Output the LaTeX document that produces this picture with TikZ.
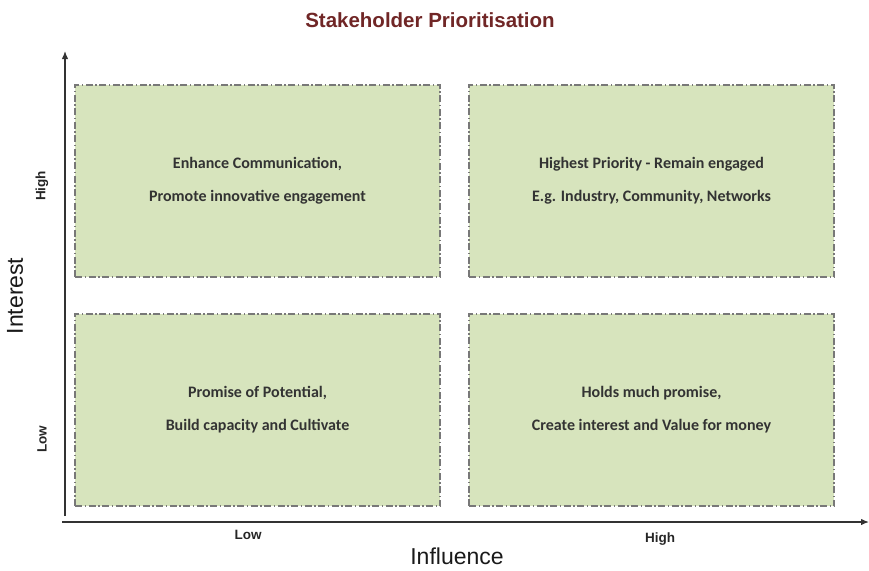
\documentclass[tikz,border=0pt]{standalone}
\usepackage{fontspec}
\setmainfont{Liberation Sans}
\newfontfamily\boxfont{Carlito}
\usetikzlibrary{arrows.meta}
\definecolor{quadfill}{RGB}{215,228,189}
\definecolor{quadline}{RGB}{120,120,120}
\definecolor{titlered}{RGB}{112,38,38}
\tikzset{
	quad/.style={draw=quadline, fill=quadfill, line width=1.8pt,
		dash pattern=on 7pt off 2.5pt on 1.5pt off 2.5pt,
		minimum width=365pt, minimum height=192pt, inner sep=0pt,
		align=center, font=\boxfont\bfseries\fontsize{16}{33}\selectfont, text=black!80},
	axis/.style={line width=1.3pt, color=black!80, -{Latex[length=8pt,width=6.5pt]}},
	level/.style={font=\bfseries\fontsize{13.5}{15}\selectfont, text=black!85},
	axislabel/.style={font=\fontsize{23}{26}\selectfont, text=black!90}
}
\begin{document}
\begin{tikzpicture}[x=1pt, y=-1pt]
			%%%%% START %%%%%
			\useasboundingbox (0, 0) rectangle (869, 570);
			
			\node[font=\bfseries\fontsize{20.5}{24}\selectfont, text=titlered] (title) at (430, 20) {Stakeholder Prioritisation};
			
			% the four quadrants
			\node[quad] (lowhigh) at (257.5, 181) {Enhance Communication,\\Promote innovative engagement};
			\node[quad] (highhigh) at (651.5, 181) {Highest Priority - Remain engaged\\E.g. Industry, Community, Networks};
			\node[quad] (lowlow) at (257.5, 410) {Promise of Potential,\\Build capacity and Cultivate};
			\node[quad] (highlow) at (651.5, 410) {Holds much promise,\\Create interest and Value for money};
			
			% axes
			\coordinate (origin) at (65, 522);
			\coordinate (ytop) at (65, 51);
			\coordinate (xend) at (869, 522);
			\draw[axis] ([xshift=-3pt]origin) -- (xend);
			\draw[axis] ([yshift=6pt]origin) -- (ytop);
			
			\node[level, rotate=90] (ihigh) at (42, 186) {High};
			\node[level, rotate=90] (ilow) at (42, 439) {Low};
			\node[axislabel, rotate=90] (interest) at (15, 296) {Interest};
			
			\node[level] (flow) at (248, 535) {Low};
			\node[level] (fhigh) at (660, 539) {High};
			\node[axislabel] (influence) at (457, 556) {Influence};
			%%%%% END %%%%%
		\end{tikzpicture}
\end{document}
